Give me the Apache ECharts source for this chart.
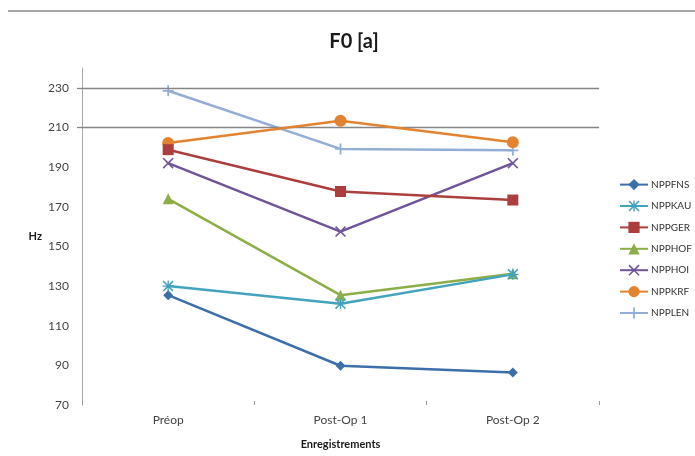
<!DOCTYPE html>
<html>
<head>
<meta charset="utf-8">
<script src="https://cdn.jsdelivr.net/npm/echarts@6/dist/echarts.min.js"></script>
<style>html,body{margin:0;padding:0;background:#fff;}#c{width:695px;height:456px;}</style>
</head>
<body>
<div id="c"></div>
<script>
var categories = ['Préop', 'Post-Op 1', 'Post-Op 2'];
var seriesNames = ['NPPFNS', 'NPPKAU', 'NPPGER', 'NPPHOF', 'NPPHOI', 'NPPKRF', 'NPPLEN'];
var NPPFNS = [125.4, 89.8, 86.4];
var NPPKAU = [130, 121.1, 135.9];
var NPPGER = [198.8, 177.7, 173.4];
var NPPHOF = [174, 125.4, 136.2];
var NPPHOI = [192, 157.5, 192];
var NPPKRF = [202.2, 213.4, 202.6];
var NPPLEN = [228.5, 199.2, 198.5];
var yTicks = [70, 90, 110, 130, 150, 170, 190, 210, 230];
var gridValues = [210, 230];

var values = [NPPFNS, NPPKAU, NPPGER, NPPHOF, NPPHOI, NPPKRF, NPPLEN];
var colors = ['#3C6EAA', '#44A3BC', '#AC3F3D', '#8CAE48', '#70549A', '#E3832F', '#93AED5'];
var plusPath = 'path://M4.2,0H5.8V4.2H10V5.8H5.8V10H4.2V5.8H0V4.2H4.2Z';
var xPath = 'path://M0,1L1,0L5,4L9,0L10,1L6,5L10,9L9,10L5,6L1,10L0,9L4,5Z';
var starPath = 'path://M0,1L1,0L5,4L9,0L10,1L6,5L10,9L9,10L5,6L1,10L0,9L4,5Z M4.4,0H5.6V4.4H10V5.6H5.6V10H4.4V5.6H0V4.4H4.4Z';
var symbols = ['diamond', starPath, 'rect', 'triangle', xPath, 'circle', plusPath];
var sizes = [10, 11, 11, 11, 11, 12, 11];

var chart = echarts.init(document.getElementById('c'));
var series = seriesNames.map(function (n, i) {
  var s = {
    name: n,
    type: 'line',
    data: values[i],
    symbol: symbols[i],
    symbolSize: sizes[i],
    lineStyle: { width: 2.5, color: colors[i] },
    itemStyle: { color: colors[i] },
    emphasis: { disabled: true },
    z: 10 - i
  };
  if (i === 0) {
    s.markLine = {
      silent: true,
      symbol: ['none', 'none'],
      label: { show: false },
      lineStyle: { color: '#858585', width: 1.3, type: 'solid' },
      data: gridValues.map(function (v) { return { yAxis: v }; })
    };
  }
  return s;
});

chart.setOption({
  animation: false,
  color: colors,
  textStyle: { fontFamily: 'Lato' },
  title: {
    text: 'F0 [a]',
    left: 349, top: 27, textAlign: 'center',
    textStyle: { fontSize: 20, fontWeight: 'bold', color: '#1a1a1a', fontFamily: 'Lato' }
  },
  graphic: [{
    type: 'line',
    shape: { x1: 8, y1: 11, x2: 695, y2: 11 },
    style: { stroke: '#8a8a8a', lineWidth: 1.5 }
  }],
  legend: {
    orient: 'vertical',
    left: 619, top: 179, padding: 0,
    itemWidth: 28, itemHeight: 14, itemGap: 10.2,
    textStyle: { fontSize: 10, color: '#333', fontFamily: 'Lato', padding: [0, 0, 0, -2] },
    data: seriesNames
  },
  grid: { left: 82, right: 96, top: 68, bottom: 51, containLabel: false },
  xAxis: {
    type: 'category',
    data: categories,
    boundaryGap: true,
    name: 'Enregistrements',
    nameLocation: 'middle',
    nameGap: 34,
    nameTextStyle: { fontSize: 11, fontWeight: 'bold', color: '#1a1a1a' },
    axisLine: { show: false },
    axisTick: { show: true, length: 4, inside: true, lineStyle: { color: '#999' } },
    axisLabel: { fontSize: 12, color: '#444', margin: 9 }
  },
  yAxis: {
    type: 'value',
    min: 70, max: 240, interval: 20,
    name: 'Hz',
    nameLocation: 'middle',
    nameRotate: 0,
    nameGap: 40,
    nameTextStyle: { fontSize: 11, fontWeight: 'bold', color: '#1a1a1a' },
    axisLine: { show: true, lineStyle: { color: '#aaa', width: 1 } },
    axisTick: { show: true, length: 5, customValues: gridValues, lineStyle: { color: '#858585', width: 1.3 } },
    splitLine: { show: false },
    axisLabel: { fontSize: 12, color: '#444', margin: 13, customValues: yTicks }
  },
  series: series
});
</script>
</body>
</html>
